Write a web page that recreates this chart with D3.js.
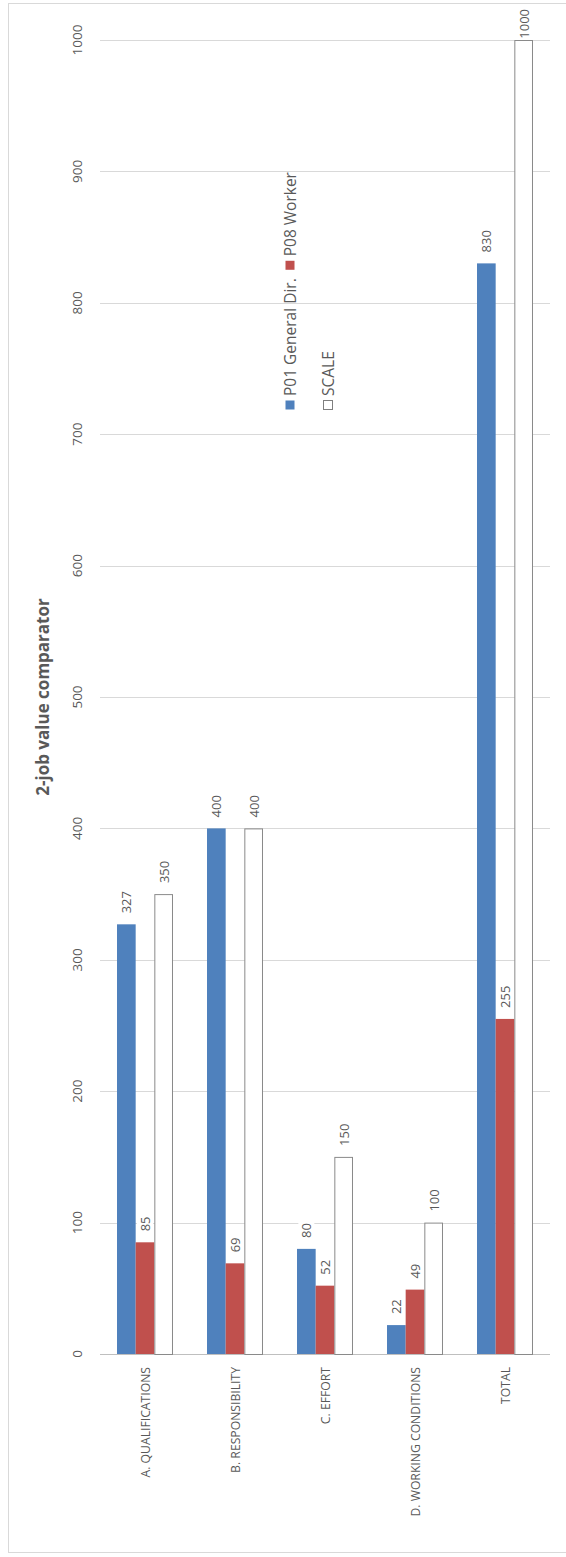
<!DOCTYPE html>
<html>
<head>
<meta charset="utf-8">
<script src="https://cdn.jsdelivr.net/npm/d3@7/dist/d3.min.js"></script>
<style>
  html, body { margin: 0; padding: 0; background: #fff; }
  svg { display: block; font-family: "Open Sans", "Noto Sans", sans-serif; }
</style>
</head>
<body>
<svg id="chart" width="566" height="1557"></svg>
<script>
// Job evaluation points per factor
const categories = ["A. QUALIFICATIONS", "B. RESPONSIBILITY", "C. EFFORT", "D. WORKING CONDITIONS", "TOTAL"];
const seriesNames = ["P01 General Dir.", "P08 Worker", "SCALE"];
const generalDir = [327, 400, 80, 22, 830];
const worker = [85, 69, 52, 49, 255];
const scaleMax = [350, 400, 150, 100, 1000];
const yTicks = [0, 100, 200, 300, 400, 500, 600, 700, 800, 900, 1000];
const title = "2-job value comparator";

const series = [
  { name: seriesNames[0], values: generalDir, fill: "#4F81BD", stroke: "none" },
  { name: seriesNames[1], values: worker, fill: "#C0504D", stroke: "none" },
  { name: seriesNames[2], values: scaleMax, fill: "#ffffff", stroke: "#8a8a8a" }
];

const svg = d3.select("#chart");
const textColor = "#595959";

// chart frame
svg.append("rect")
  .attr("x", 8.5).attr("y", 3.5)
  .attr("width", 620).attr("height", 1549)
  .attr("fill", "none").attr("stroke", "#d9d9d9");

const plot = { left: 100, right: 550, top: 40, bottom: 1354 };

const x = d3.scaleBand()
  .domain(categories)
  .range([plot.left, plot.right])
  .paddingInner(0.378)
  .paddingOuter(0.189);

const xs = d3.scaleBand()
  .domain(seriesNames)
  .range([0, x.bandwidth()]);

const y = d3.scaleLinear()
  .domain([0, 1000])
  .range([plot.bottom, plot.top]);

// gridlines
svg.append("g")
  .selectAll("line")
  .data(yTicks)
  .join("line")
  .attr("x1", plot.left).attr("x2", plot.right)
  .attr("y1", d => Math.round(y(d)) + 0.5).attr("y2", d => Math.round(y(d)) + 0.5)
  .attr("stroke", d => d === 0 ? "#bfbfbf" : "#d9d9d9")
  .attr("stroke-width", 1);

// value axis labels (rotated)
svg.append("g")
  .selectAll("text")
  .data(yTicks)
  .join("text")
  .attr("transform", d => `translate(77,${y(d)}) rotate(-90)`)
  .attr("text-anchor", "middle")
  .attr("dominant-baseline", "central")
  .attr("font-size", 13.5)
  .attr("fill", textColor)
  .text(d => d);

// bars
const groups = svg.append("g")
  .selectAll("g")
  .data(series)
  .join("g");

groups.selectAll("rect")
  .data(s => s.values.map((v, i) => ({ s, v, cat: categories[i] })))
  .join("rect")
  .attr("x", d => x(d.cat) + xs(d.s.name) + (d.s.stroke !== "none" ? 0.5 : 0))
  .attr("y", d => y(d.v) + (d.s.stroke !== "none" ? 0.5 : 0))
  .attr("width", d => xs.bandwidth() - (d.s.stroke !== "none" ? 1 : 0))
  .attr("height", d => y(0) - y(d.v))
  .attr("fill", d => d.s.fill)
  .attr("stroke", d => d.s.stroke)
  .attr("stroke-width", 1);

// data labels with white backing
const labelData = [];
series.forEach(s => s.values.forEach((v, i) => labelData.push({ s, v, cat: categories[i] })));

const labels = svg.append("g")
  .selectAll("g")
  .data(labelData)
  .join("g");

labels.each(function (d) {
  const g = d3.select(this);
  const t = g.append("text")
    .attr("text-anchor", "start")
    .attr("dominant-baseline", "central")
    .attr("font-size", 13)
    .attr("fill", textColor)
    .text(d.v);
  const len = t.node().getComputedTextLength();
  const cx = x(d.cat) + xs(d.s.name) + xs.bandwidth() / 2;
  const start = Math.max(y(d.v) - 11, 9 + len);
  g.attr("transform", `translate(${cx},${start}) rotate(-90)`);
  g.insert("rect", "text")
    .attr("x", -1).attr("y", -8)
    .attr("width", len + 2).attr("height", 16)
    .attr("fill", "#fff");
});

// category labels (rotated)
svg.append("g")
  .selectAll("text")
  .data(categories)
  .join("text")
  .attr("transform", d => `translate(${x(d) + x.bandwidth() / 2},1367) rotate(-90)`)
  .attr("text-anchor", "end")
  .attr("dominant-baseline", "central")
  .attr("font-size", 12.2)
  .attr("fill", textColor)
  .text(d => d);

// title
svg.append("text")
  .attr("transform", `translate(42,${(plot.top + plot.bottom) / 2}) rotate(-90)`)
  .attr("text-anchor", "middle")
  .attr("dominant-baseline", "central")
  .attr("font-size", 17)
  .attr("font-weight", "bold")
  .attr("fill", textColor)
  .text(title);

// legend: two rows, rotated
const legendRows = [[series[0], series[1]], [series[2]]];
const rowX = [290, 328];
legendRows.forEach((row, r) => {
  let pos = 410;
  row.forEach(s => {
    const g = svg.append("g").attr("transform", `translate(${rowX[r]},${pos}) rotate(-90)`);
    g.append("rect")
      .attr("x", 0.5).attr("y", -4.5)
      .attr("width", 9).attr("height", 9)
      .attr("fill", s.fill)
      .attr("stroke", s.stroke === "none" ? "none" : "#7f7f7f");
    const t = g.append("text")
      .attr("x", 14)
      .attr("dominant-baseline", "central")
      .attr("font-size", 15.5)
      .attr("fill", textColor)
      .text(s.name);
    pos -= 14 + t.node().getComputedTextLength() + 8;
  });
});
</script>
</body>
</html>
